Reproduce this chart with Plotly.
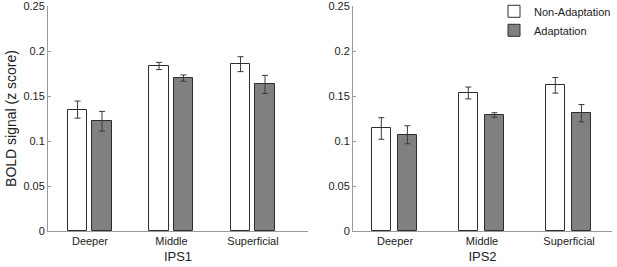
import plotly.graph_objects as go

categories = ["Deeper", "Middle", "Superficial"]
ips1_nonadapt = [0.135, 0.1835, 0.1855]
ips1_nonadapt_err = [0.0095, 0.004, 0.0083]
ips1_adapt = [0.122, 0.170, 0.163]
ips1_adapt_err = [0.011, 0.0035, 0.010]
ips2_nonadapt = [0.114, 0.1535, 0.162]
ips2_nonadapt_err = [0.012, 0.0066, 0.0087]
ips2_adapt = [0.107, 0.129, 0.131]
ips2_adapt_err = [0.010, 0.0025, 0.0096]
y_ticks = [0, 0.05, 0.1, 0.15, 0.2, 0.25]
y_ticklabels = ["0", "0.05", "0.1", "0.15", "0.2", "0.25"]

xpos = [1, 2, 3]
FONT = "Liberation Sans, Arial, sans-serif"
WHITE = "#ffffff"
GRAY = "#808080"
EDGE = "#2e2e2e"
ERR = "#3a3a3a"
AXIS = "#9a9a9a"

fig = go.Figure()

def add_panel(nonad, nonad_err, ad, ad_err, xa, ya, show, w):
    fig.add_trace(go.Bar(
        x=xpos, y=nonad, name="Non-Adaptation", showlegend=show,
        offset=-0.27, width=w,
        marker=dict(color=WHITE, line=dict(color=EDGE, width=1)),
        error_y=dict(type="data", array=nonad_err, color=ERR, thickness=1, width=3),
        xaxis=xa, yaxis=ya,
    ))
    fig.add_trace(go.Bar(
        x=xpos, y=ad, name="Adaptation", showlegend=show,
        offset=0.03, width=w,
        marker=dict(color=GRAY, line=dict(color=EDGE, width=1)),
        error_y=dict(type="data", array=ad_err, color=ERR, thickness=1, width=3),
        xaxis=xa, yaxis=ya,
    ))

add_panel(ips1_nonadapt, ips1_nonadapt_err, ips1_adapt, ips1_adapt_err, "x", "y", False, 0.235)
add_panel(ips2_nonadapt, ips2_nonadapt_err, ips2_adapt, ips2_adapt_err, "x2", "y2", True, 0.225)

yb, yt = (267 - 231) / 267, (267 - 6) / 267

xcommon = dict(
    tickmode="array", tickvals=xpos, ticktext=categories, automargin=False,
    showline=True, linecolor=AXIS, linewidth=1, ticks="", showgrid=False,
    zeroline=False, tickfont=dict(family=FONT, size=11, color="#222"),
    title_font=dict(family=FONT, size=13, color="#222"), title_standoff=5,
)
ycommon = dict(
    range=[0, 0.2502], tickmode="array", tickvals=y_ticks, ticktext=y_ticklabels,
    automargin=False,
    showline=True, linecolor=AXIS, linewidth=1, ticks="inside", ticklen=3,
    tickcolor=AXIS, showgrid=False, zeroline=False,
    tickfont=dict(family=FONT, size=11, color="#222"),
)

fig.update_layout(
    width=617, height=267,
    margin=dict(l=0, r=0, t=0, b=0, autoexpand=False),
    plot_bgcolor="white", paper_bgcolor="white",
    barmode="overlay",
    xaxis=dict(domain=[48 / 617, 308 / 617], range=[0.485, 3.675],
               title_text="IPS1", **xcommon),
    yaxis=dict(domain=[yb, yt], anchor="x",
               title=dict(text="BOLD signal (z score)", standoff=3,
                          font=dict(family=FONT, size=14, color="#222")),
               **ycommon),
    xaxis2=dict(domain=[353 / 617, 612 / 617], range=[0.517, 3.494],
                anchor="y2", title_text="IPS2", **xcommon),
    yaxis2=dict(domain=[yb, yt], anchor="x2", **ycommon),
    legend=dict(x=494 / 617, y=1.012, xanchor="left", yanchor="top",
                font=dict(family=FONT, size=11, color="#222"),
                bgcolor="rgba(0,0,0,0)", tracegroupgap=0, itemwidth=30),
    bargap=0,
)

fig.write_html("out.html", config={"displayModeBar": False},
               post_script="document.body.style.margin='0';document.body.style.overflow='hidden';")
